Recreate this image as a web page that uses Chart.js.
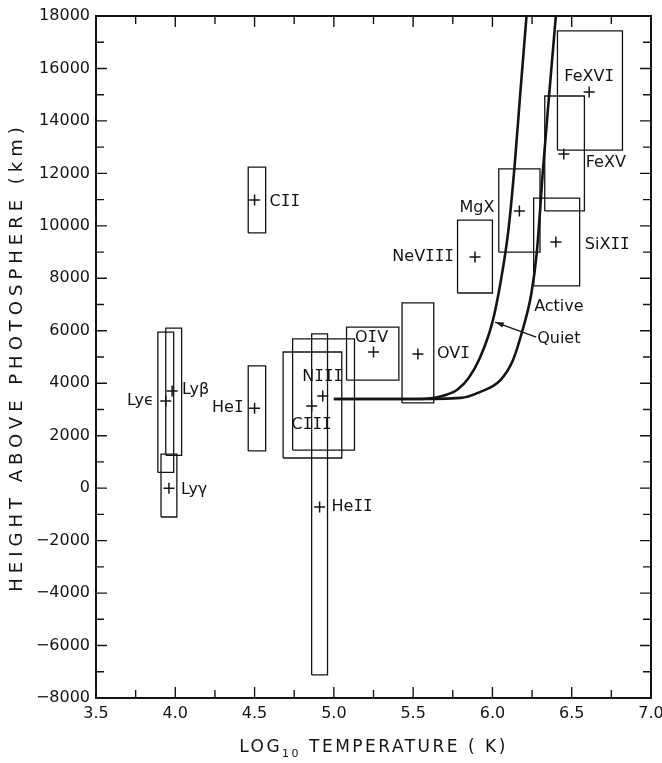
<!DOCTYPE html>
<html>
<head>
<meta charset="utf-8">
<script src="https://cdn.jsdelivr.net/npm/chart.js@4.4.0/dist/chart.umd.min.js"></script>
<style>
  html, body { margin: 0; padding: 0; background: #fff; }
  canvas { display: block; }
</style>
</head>
<body>
<canvas id="chart" width="662" height="763"></canvas>
<script>
// ion lines: centre of formation (cross) and the box of its range
const ions   = ['Ly\u03f5', 'Ly\u03b2', 'Ly\u03b3', 'HeI', 'CII', 'NIII', 'CIII', 'HeII', 'OIV', 'OVI', 'NeVIII', 'MgX', 'SiXII', 'FeXV', 'FeXVI']
const logT   = [3.94, 3.98, 3.96, 4.50, 4.50, 4.93, 4.86, 4.91, 5.25, 5.53, 5.89, 6.17, 6.40, 6.45, 6.61]
const height = [3320, 3700, 0, 3050, 10990, 3510, 3130, -720, 5190, 5110, 8810, 10570, 9380, 12740, 15100]
const tLow   = [3.89, 3.94, 3.91, 4.46, 4.46, 4.74, 4.68, 4.86, 5.08, 5.43, 5.78, 6.04, 6.26, 6.33, 6.41]
const tHigh  = [3.99, 4.04, 4.01, 4.57, 4.57, 5.13, 5.05, 4.96, 5.41, 5.63, 6.00, 6.30, 6.55, 6.58, 6.82]
const hLow   = [600, 1250, -1100, 1420, 9730, 1450, 1150, -7120, 4120, 3250, 7440, 9000, 7710, 10570, 12890]
const hHigh  = [5950, 6100, 1300, 4660, 12240, 5690, 5190, 5880, 6140, 7060, 10220, 12170, 11060, 14950, 17430]

// temperature models
const quietT  = [5.0, 5.5, 5.6, 5.7, 5.78, 5.85, 5.92, 6.0, 6.05, 6.10, 6.14, 6.175, 6.215]
const quietH  = [3400, 3400, 3420, 3540, 3760, 4200, 4950, 6330, 7800, 9800, 12300, 15000, 18000]
const activeT = [5.0, 5.5, 5.8, 5.92, 6.05, 6.13, 6.19, 6.245, 6.28, 6.32, 6.355, 6.40]
const activeH = [3400, 3400, 3440, 3660, 4120, 4890, 6030, 7400, 9000, 12240, 14800, 18000]

// axes
const xMin = 3.5, xMax = 7.0, xStep = 0.5
const yMin = -8000, yMax = 18000, yStep = 2000

// where the ion names sit relative to their cross (px)
const labelDx    = [-12, 10, 12, -11, 15, 0, 0, 12, -2, 19, -21, -25, 29, 22, 0]
const labelDy    = [0, -1, 2, 0, 2, -19, 19, 0, -14, 0, 0, -3, 3, 9, -15]
const labelAlign = ['right', 'left', 'left', 'right', 'left', 'center', 'center', 'left', 'center', 'left', 'right', 'right', 'left', 'left', 'center']

const ink = '#141414'
const sans = '"DejaVu Sans", sans-serif'
const mono = '"DejaVu Sans Mono", monospace'

const pts = (xs, ys) => xs.map((x, i) => ({ x, y: ys[i] }))

// roman numeral I drawn with serifs, like the original lettering
function ionText(ctx, text, x, y, align, size) {
  const runs = text.match(/I+|[^I]+/g)
  const fontOf = r => (r[0] === 'I' ? mono : sans)
  let w = 0
  runs.forEach(r => { ctx.font = size + 'px ' + fontOf(r); w += ctx.measureText(r).width })
  let cx = align === 'left' ? x : align === 'right' ? x - w : x - w / 2
  ctx.textAlign = 'left'
  ctx.textBaseline = 'middle'
  runs.forEach(r => {
    ctx.font = size + 'px ' + fontOf(r)
    ctx.fillText(r, cx, y)
    cx += ctx.measureText(r).width
  })
}

const decorations = {
  id: 'decorations',
  afterDraw(chart) {
    const { ctx, chartArea: a, scales: { x, y } } = chart
    ctx.save()
    ctx.strokeStyle = ink
    ctx.fillStyle = ink

    // frame + inward ticks on all four sides
    ctx.lineWidth = 2
    ctx.strokeRect(a.left, a.top, a.right - a.left, a.bottom - a.top)
    ctx.lineWidth = 1.4
    ctx.beginPath()
    for (let k = 0; k <= (xMax - xMin) / (xStep / 2); k++) {
      const px = x.getPixelForValue(xMin + k * xStep / 2)
      const len = k % 2 === 0 ? 11 : 8
      ctx.moveTo(px, a.bottom); ctx.lineTo(px, a.bottom - len)
      ctx.moveTo(px, a.top); ctx.lineTo(px, a.top + len)
    }
    for (let k = 0; k <= (yMax - yMin) / (yStep / 2); k++) {
      const py = y.getPixelForValue(yMin + k * yStep / 2)
      const len = k % 2 === 0 ? 11 : 8
      ctx.moveTo(a.left, py); ctx.lineTo(a.left + len, py)
      ctx.moveTo(a.right, py); ctx.lineTo(a.right - len, py)
    }
    ctx.stroke()

    // ion names
    ions.forEach((name, i) => {
      const px = x.getPixelForValue(logT[i]) + labelDx[i]
      const py = y.getPixelForValue(height[i]) + labelDy[i]
      ionText(ctx, name, px, py, labelAlign[i], 16)
    })

    // model names and the arrow to the quiet curve
    ctx.font = '16px ' + sans
    ctx.textAlign = 'left'
    ctx.textBaseline = 'middle'
    ctx.fillText('Active', x.getPixelForValue(6.263), y.getPixelForValue(6900))
    ctx.fillText('Quiet', x.getPixelForValue(6.282), y.getPixelForValue(5690))
    const x0 = x.getPixelForValue(6.276), y0 = y.getPixelForValue(5760)
    const x1 = x.getPixelForValue(6.017), y1 = y.getPixelForValue(6330)
    const ang = Math.atan2(y1 - y0, x1 - x0)
    ctx.lineWidth = 1.3
    ctx.beginPath()
    ctx.moveTo(x0, y0); ctx.lineTo(x1, y1)
    ctx.stroke()
    ctx.beginPath()
    ctx.moveTo(x1, y1)
    ctx.lineTo(x1 - 9 * Math.cos(ang - 0.3), y1 - 9 * Math.sin(ang - 0.3))
    ctx.lineTo(x1 - 9 * Math.cos(ang + 0.3), y1 - 9 * Math.sin(ang + 0.3))
    ctx.closePath()
    ctx.fill()

    // axis titles
    ctx.font = '18px ' + sans
    ctx.letterSpacing = '5px'
    ctx.save()
    ctx.translate(17, (a.top + a.bottom) / 2)
    ctx.rotate(-Math.PI / 2)
    ctx.textAlign = 'center'
    ctx.fillText('HEIGHT ABOVE PHOTOSPHERE (km)', 0, 0)
    ctx.restore()

    ctx.letterSpacing = '2.5px'
    const ty = 748
    const partA = 'LOG', partB = '10', partC = ' TEMPERATURE ( K)'
    ctx.font = '17px ' + sans
    const wA = ctx.measureText(partA).width, wC = ctx.measureText(partC).width
    ctx.font = '11px ' + sans
    const wB = ctx.measureText(partB).width
    let tx = (a.left + a.right) / 2 - (wA + wB + wC) / 2
    ctx.textAlign = 'left'
    ctx.font = '17px ' + sans
    ctx.fillText(partA, tx, ty); tx += wA
    ctx.font = '11px ' + sans
    ctx.fillText(partB, tx, ty + 6); tx += wB
    ctx.font = '17px ' + sans
    ctx.fillText(partC, tx, ty)
    ctx.restore()
  }
}

const boxSets = ions.map((name, i) => ({
  label: name,
  data: pts([tLow[i], tHigh[i], tHigh[i], tLow[i], tLow[i]], [hLow[i], hLow[i], hHigh[i], hHigh[i], hLow[i]]),
  showLine: true,
  borderColor: ink,
  borderWidth: 1.3,
  pointRadius: 0,
  tension: 0
}))

new Chart(document.getElementById('chart'), {
  type: 'scatter',
  data: {
    datasets: [
      ...boxSets,
      {
        label: 'centres',
        data: pts(logT, height),
        pointStyle: 'cross',
        pointRadius: 5.5,
        borderColor: ink,
        borderWidth: 1.5
      },
      {
        label: 'Quiet',
        data: pts(quietT, quietH),
        showLine: true,
        borderColor: ink,
        borderWidth: 2.6,
        pointRadius: 0,
        cubicInterpolationMode: 'monotone'
      },
      {
        label: 'Active',
        data: pts(activeT, activeH),
        showLine: true,
        borderColor: ink,
        borderWidth: 2.6,
        pointRadius: 0,
        cubicInterpolationMode: 'monotone'
      }
    ]
  },
  options: {
    responsive: false,
    animation: false,
    layout: { padding: { top: 16, right: 11, left: 0, bottom: 0 } },
    plugins: { legend: { display: false }, tooltip: { enabled: false } },
    scales: {
      x: {
        type: 'linear',
        min: xMin,
        max: xMax,
        grid: { display: false, drawTicks: false },
        border: { display: false },
        ticks: {
          stepSize: xStep,
          padding: 6,
          color: ink,
          font: { family: 'DejaVu Sans', size: 16 },
          callback: v => v.toFixed(1)
        },
        afterFit: s => { s.height = 65; s.paddingLeft = 0; s.paddingRight = 0 }
      },
      y: {
        type: 'linear',
        min: yMin,
        max: yMax,
        grid: { display: false, drawTicks: false },
        border: { display: false },
        ticks: {
          stepSize: yStep,
          padding: 6,
          color: ink,
          font: { family: 'DejaVu Sans', size: 16 },
          callback: v => (v < 0 ? '\u2212' + Math.abs(v) : String(v))
        },
        afterFit: s => { s.width = 96; s.paddingTop = 0; s.paddingBottom = 0 }
      }
    }
  },
  plugins: [decorations]
})
</script>
</body>
</html>
